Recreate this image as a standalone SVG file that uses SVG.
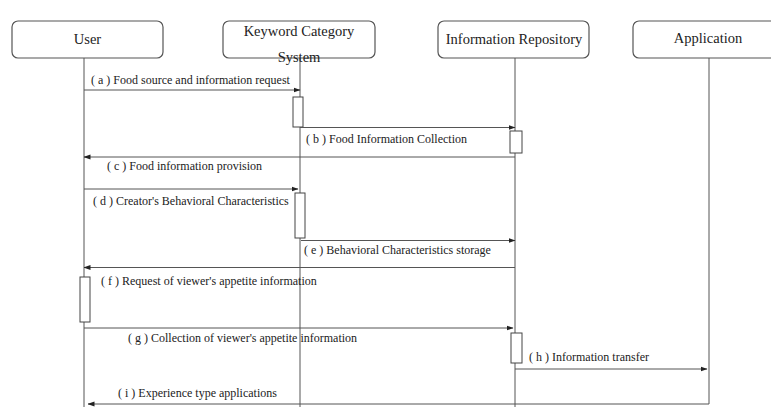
<svg xmlns="http://www.w3.org/2000/svg" width="771" height="416" viewBox="0 0 771 416">
<defs>
<marker id="ah" markerWidth="7" markerHeight="6" refX="6.5" refY="3" orient="auto" markerUnits="userSpaceOnUse">
<path d="M0,0.5 L7,3 L0,5.5 Z" fill="#222"/>
</marker>
</defs>
<style>
.box{fill:#fff;stroke:#555;stroke-width:1.2}
.life{stroke:#555;stroke-width:1;fill:none}
.act{fill:#fff;stroke:#444;stroke-width:1}
.msg{stroke:#555;stroke-width:1;fill:none}
.arr{marker-end:url(#ah)}
.nt{font-family:"Liberation Serif","Times New Roman",serif;font-size:14.5px;fill:#222;text-anchor:middle}
.mt{font-family:"Liberation Serif","Times New Roman",serif;font-size:12px;fill:#222}
</style>
<rect width="771" height="416" fill="#fff"/>
<g id="lifelines">
<line class="life" x1="84" y1="58" x2="84" y2="407"/>
<line class="life" x1="300" y1="58" x2="300" y2="407"/>
<line class="life" x1="515" y1="58" x2="515" y2="407"/>
<line class="life" x1="709" y1="58" x2="709" y2="404"/>
</g>
<g id="user">
<rect class="box" x="12" y="21" width="151" height="37" rx="6"/>
<text class="nt" x="87.5" y="44">User</text>
</g>
<g id="keyword-category-system">
<rect class="box" x="223" y="21" width="152" height="37" rx="6"/>
<text class="nt" x="299" y="36">Keyword Category</text>
<text class="nt" x="299" y="62">System</text>
</g>
<g id="information-repository">
<rect class="box" x="438" y="21" width="151" height="37" rx="6"/>
<text class="nt" x="514" y="44">Information Repository</text>
</g>
<g id="application">
<rect class="box" x="633" y="21" width="151" height="37" rx="6"/>
<text class="nt" x="708" y="43">Application</text>
</g>
<g id="activations">
<rect class="act" x="293" y="97" width="10" height="30"/>
<rect class="act" x="510" y="131" width="12" height="22"/>
<rect class="act" x="295" y="193" width="10" height="45"/>
<rect class="act" x="80" y="277" width="10" height="45"/>
<rect class="act" x="511" y="333" width="11" height="30"/>
</g>
<g id="connectors">
<line class="msg arr" x1="84" y1="90" x2="300" y2="90"/>
<line class="msg arr" x1="300" y1="127.5" x2="515" y2="127.5"/>
<line class="msg arr" x1="515" y1="157" x2="84" y2="157"/>
<line class="msg arr" x1="84" y1="189" x2="298" y2="189"/>
<line class="msg arr" x1="301" y1="240.5" x2="515" y2="240.5"/>
<line class="msg arr" x1="515" y1="267.5" x2="84" y2="267.5"/>
<line class="msg arr" x1="84" y1="328" x2="513" y2="328"/>
<line class="msg arr" x1="515" y1="369" x2="707" y2="369"/>
<line class="msg arr" x1="709" y1="404" x2="88" y2="404"/>
</g>
<g id="labels">
<text class="mt" x="91" y="84">( a ) Food source and information request</text>
<text class="mt" x="306" y="143">( b ) Food Information Collection</text>
<text class="mt" x="107" y="170">( c ) Food information provision</text>
<text class="mt" x="93" y="205">( d ) Creator's Behavioral Characteristics</text>
<text class="mt" x="304" y="254">( e ) Behavioral Characteristics storage</text>
<text class="mt" x="101" y="285">( f ) Request of viewer's appetite information</text>
<text class="mt" x="128" y="342">( g ) Collection of viewer's appetite information</text>
<text class="mt" x="529" y="361">( h ) Information transfer</text>
<text class="mt" x="118" y="397">( i ) Experience type applications</text>
</g>
</svg>
